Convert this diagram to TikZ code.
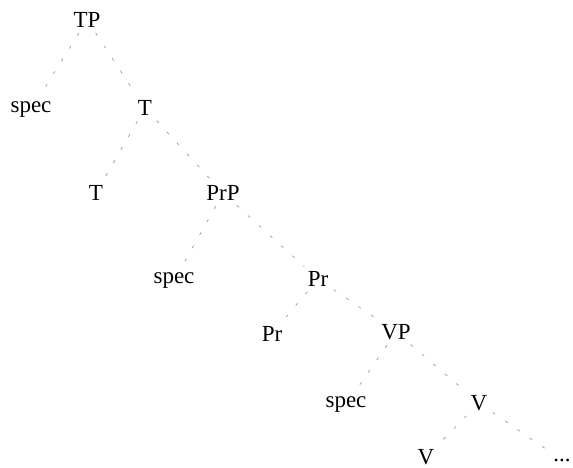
\documentclass[tikz,border=0pt]{standalone}
\usepackage{fontspec}
\setmainfont{Liberation Serif}
\usetikzlibrary{positioning}
\definecolor{inkFaint}{HTML}{8C8C8C}

\begin{document}
\begin{tikzpicture}[x=1pt, y=-1pt, every node/.style={font=\fontsize{23}{26}\selectfont, inner sep=2pt},
  br/.style={draw=inkFaint, line width=0.6pt, dash pattern=on 3pt off 12pt, shorten >=4pt, shorten <=4pt}]
\useasboundingbox (0,0) rectangle (573,468);
\node (tp) at (87,20) {TP};
\node (spa) at (31,110) {spec};
\node (tb) at (145,108) {T};
\node (t) at (96,193) {T};
\node (prp) at (223,193) {PrP};
\node (spb) at (174,281) {spec};
\node (prb) at (318,279) {Pr};
\node (pr) at (272,334) {Pr};
\node (vp) at (396,332) {VP};
\node (spc) at (346,405) {spec};
\node (vb) at (479,403) {V};
\node (v) at (426,457) {V};
\node (dots) at (562,460) {...};
\draw[br] (tp) -- (spa); \draw[br] (tp) -- (tb);
\draw[br] (tb) -- (t); \draw[br] (tb) -- (prp);
\draw[br] (prp) -- (spb); \draw[br] (prp) -- (prb);
\draw[br] (prb) -- (pr); \draw[br] (prb) -- (vp);
\draw[br] (vp) -- (spc); \draw[br] (vp) -- (vb);
\draw[br] (vb) -- (v); \draw[br] (vb) -- (dots);
\end{tikzpicture}
\end{document}
